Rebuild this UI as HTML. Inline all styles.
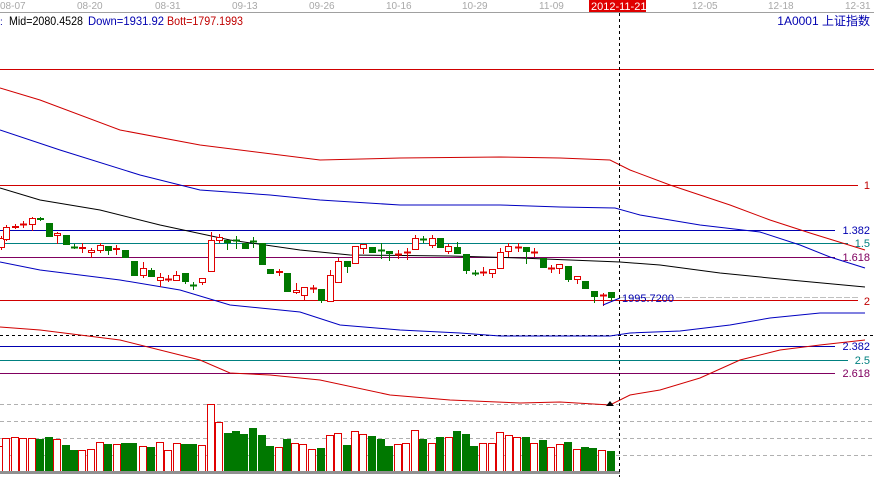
<!DOCTYPE html>
<html><head><meta charset="utf-8"><style>
html,body{margin:0;padding:0;background:#fff;width:874px;height:477px;overflow:hidden}
svg{display:block;font-family:"Liberation Sans","Noto Sans CJK SC",sans-serif}
</style></head><body>
<svg id="s" width="874" height="477" xmlns="http://www.w3.org/2000/svg">
<rect width="874" height="477" fill="#fff"/>
<line x1="0" y1="12.5" x2="874" y2="12.5" stroke="#a0a0a0"/>
<g font-size="10" fill="#a8a8a8">
<text x="0" y="9">08-07</text><text x="77" y="9">08-20</text><text x="155" y="9">08-31</text><text x="232" y="9">09-13</text><text x="309" y="9">09-26</text><text x="386" y="9">10-16</text><text x="462" y="9">10-29</text><text x="539" y="9">11-09</text><text x="692" y="9">12-05</text><text x="768" y="9">12-18</text><text x="845" y="9">12-31</text>
</g>
<rect x="589" y="0" width="57" height="12" fill="#e00000"/>
<text x="591" y="10" font-size="11" fill="#fff">2012-11-21</text>
<g font-size="12">
<text x="0" y="25" fill="#0000a0" font-size="10">:</text>
<text x="9" y="25" fill="#000" textLength="74" lengthAdjust="spacingAndGlyphs">Mid=2080.4528</text>
<text x="88" y="25" fill="#0000b0" textLength="76" lengthAdjust="spacingAndGlyphs">Down=1931.92</text>
<text x="167" y="25" fill="#c00000" textLength="76" lengthAdjust="spacingAndGlyphs">Bott=1797.1993</text>
<text x="870" y="25" fill="#0000b0" text-anchor="end">1A0001 上证指数</text>
</g>
<g id="g"></g>
</svg>
<script>
var g=document.getElementById('g'),h='';
function L(x1,y1,x2,y2,c,extra){h+='<line x1="'+x1+'" y1="'+y1+'" x2="'+x2+'" y2="'+y2+'" stroke="'+c+'" '+(extra||'')+'/>';}
function P(pts,c){h+='<polyline fill="none" stroke="'+c+'" points="'+pts.map(function(p){return p.join(',')}).join(' ')+'"/>';}
function T(x,y,t,c){h+='<text x="'+x+'" y="'+y+'" font-size="11" fill="'+c+'" text-anchor="end">'+t+'</text>';}
[404,421,438,455].forEach(function(y){L(0,y+.5,874,y+.5,'#b0b0b0','stroke-dasharray="4,3"');});
L(0,69.5,874,69.5,'#d00000');
L(0,185.5,858,185.5,'#d00000');T(870,189,'1','#c00000');
L(0,230.5,835,230.5,'#0000b0');T(870,234,'1.382','#0000b0');
L(0,243.5,848,243.5,'#008080');T(870,247,'1.5','#008080');
L(0,257.5,835,257.5,'#800060');T(870,261,'1.618','#800060');
L(0,300.5,858,300.5,'#d00000');T(870,305,'2','#c00000');
L(0,335.5,874,335.5,'#000','stroke-dasharray="3,3"');
L(0,346.5,835,346.5,'#0000b0');T(870,350,'2.382','#0000b0');
L(0,360.5,848,360.5,'#008080');T(870,364,'2.5','#008080');
L(0,373.5,835,373.5,'#800060');T(870,377,'2.618','#800060');
L(620,297.5,860,297.5,'#c0c0c0','stroke-dasharray="6,2"');
P([[0,88],[40,100],[120,130],[200,145],[280,155],[320,160],[400,158],[500,157],[560,158],[610,160],[630,170],[670,185],[700,195],[730,205],[770,220],[810,233],[865,250]],'#d00000');
P([[0,130],[60,150],[140,175],[200,190],[270,195],[320,200],[400,205],[500,205],[560,207],[615,208],[640,215],[700,225],[760,232],[800,245],[830,257],[865,268]],'#0000c0');
P([[0,188],[40,200],[100,210],[160,225],[230,240],[300,250],[350,255],[450,256],[520,258],[620,262],[660,265],[720,273],[790,280],[865,287]],'#000');
P([[0,262],[40,270],[120,280],[180,290],[230,305],[300,312],[340,325],[400,330],[460,333],[500,336],[610,336],[630,333],[680,331],[730,325],[770,318],[820,313],[865,313]],'#0000c0');
P([[0,327],[40,330],[120,340],[200,360],[230,373],[270,375],[320,380],[390,395],[450,400],[520,403],[560,402],[610,405],[630,395],[660,390],[700,378],[740,360],[780,350],[820,345],[865,340]],'#d00000');
var C=[[1,'r',238,247,236,249],[6,'r',227,239,225,240],[15,'r',226,227,224,228],[23,'r',224,224,221,227],[32,'r',218,224,217,230],[40,'g',218,219,217,220],[49,'g',223,236,223,236],[57,'r',233,235,232,243],[66,'g',235,244,235,244],[74,'g',247,247,244,248],[82,'r',247,248,243,252],[91,'r',250,252,248,257],[100,'r',245,250,243,252],[108,'g',246,250,246,254],[116,'r',248,249,245,254],[125,'g',250,257,250,257],[134,'g',261,275,261,275],[143,'r',268,275,262,277],[151,'g',270,276,268,276],[160,'r',277,280,273,286],[168,'r',279,279,275,281],[176,'r',275,280,271,280],[185,'g',273,281,273,283],[193,'g',285,285,282,289],[202,'r',278,282,278,284],[211,'r',240,271,232,271],[219,'r',237,240,234,242],[227,'g',240,242,240,249],[236,'g',240,240,236,248],[245,'g',243,248,243,248],[253,'g',241,241,237,247],[262,'g',243,264,243,264],[270,'g',269,273,269,273],[279,'r',271,272,269,275],[287,'g',273,291,273,291],[296,'r',290,292,283,293],[304,'r',287,295,287,299],[313,'r',288,288,285,292],[321,'g',289,300,289,302],[330,'r',275,301,270,301],[338,'r',261,282,258,282],[347,'g',261,266,261,272],[355,'r',246,263,246,263],[363,'r',244,248,244,253],[372,'g',247,252,247,252],[381,'g',250,250,243,258],[389,'g',251,253,251,260],[398,'r',254,254,250,258],[407,'r',252,252,248,259],[415,'r',238,249,235,249],[423,'g',239,239,236,242],[432,'r',238,245,235,247],[440,'g',238,247,238,247],[448,'r',246,251,244,253],[457,'g',247,253,242,253],[466,'g',254,270,254,273],[475,'g',273,273,270,275],[483,'r',272,272,267,275],[492,'r',269,273,269,277],[500,'r',252,268,248,268],[508,'r',246,251,243,256],[518,'r',247,247,243,251],[526,'g',247,251,247,263],[534,'r',252,252,248,256],[543,'g',258,267,258,267],[551,'r',268,268,265,272],[559,'r',264,268,264,273],[568,'g',266,279,266,281],[577,'r',276,279,276,283],[585,'g',281,288,281,288],[594,'g',291,296,291,302],[603,'r',295,295,293,305],[611,'g',292,297,292,301]];
C.forEach(function(c){var col=c[1]=='r'?'#e00000':'#007800';L(c[0]+.5,c[4],c[0]+.5,c[5]+1,col);
 if(c[3]-c[2]<1){L(c[0]-3,c[2]+.5,c[0]+4,c[2]+.5,col,'stroke-width="2"');}
 else if(c[1]=='r')h+='<rect x="'+(c[0]-2.5)+'" y="'+(c[2]+.5)+'" width="6" height="'+(c[3]-c[2])+'" fill="#fff" stroke="#e00000"/>';
 else h+='<rect x="'+(c[0]-3)+'" y="'+c[2]+'" width="7" height="'+(c[3]-c[2]+1)+'" fill="#007800"/>';});
h+='<text x="622" y="302" font-size="11" fill="#0000b0">1995.7200</text>';
L(603,305,620,298,'#0000c0');
var V=[[0,'r',446],[6,'r',438],[15,'r',437],[23,'r',438],[32,'r',438],[40,'g',439],[49,'g',437],[57,'r',439],[66,'g',445],[74,'g',450],[82,'r',450],[91,'r',449],[100,'r',442],[108,'g',444],[117,'r',444],[125,'g',443],[133,'g',443],[143,'r',446],[151,'g',447],[160,'r',442],[168,'r',450],[177,'r',443],[185,'g',444],[193,'g',444],[202,'r',445],[211,'r',404],[219,'r',422],[228,'g',433],[236,'g',431],[244,'g',434],[253,'g',428],[262,'g',435],[270,'g',446],[279,'r',447],[287,'g',439],[295,'r',443],[303,'r',444],[312,'r',449],[321,'g',448],[330,'r',435],[338,'r',433],[347,'g',445],[355,'r',431],[363,'r',434],[372,'g',436],[381,'g',439],[389,'g',446],[398,'r',444],[406,'r',443],[415,'r',430],[423,'g',439],[432,'r',443],[440,'g',437],[449,'r',437],[457,'g',431],[466,'g',434],[474,'g',446],[483,'r',443],[492,'r',443],[500,'r',432],[509,'r',435],[517,'r',437],[526,'g',437],[534,'r',443],[543,'g',440],[551,'r',447],[560,'r',444],[568,'g',442],[577,'r',449],[585,'g',447],[593,'g',448],[602,'r',450],[611,'g',451]];
V.forEach(function(v){if(v[1]=='r')h+='<rect x="'+(v[0]-3.5)+'" y="'+(v[2]+.5)+'" width="7" height="'+(471-v[2])+'" fill="#fff" stroke="#e00000"/>';
 else h+='<rect x="'+(v[0]-4)+'" y="'+v[2]+'" width="8" height="'+(472-v[2])+'" fill="#007800"/>';});
h+='<rect x="0" y="471" width="620" height="3" fill="#909090"/>';
h+='<polygon points="606,406 614,406 610,401" fill="#000"/>';
L(619.5,13,619.5,477,'#000','stroke-dasharray="3,3"');
g.innerHTML=h;
</script>
</body></html>
